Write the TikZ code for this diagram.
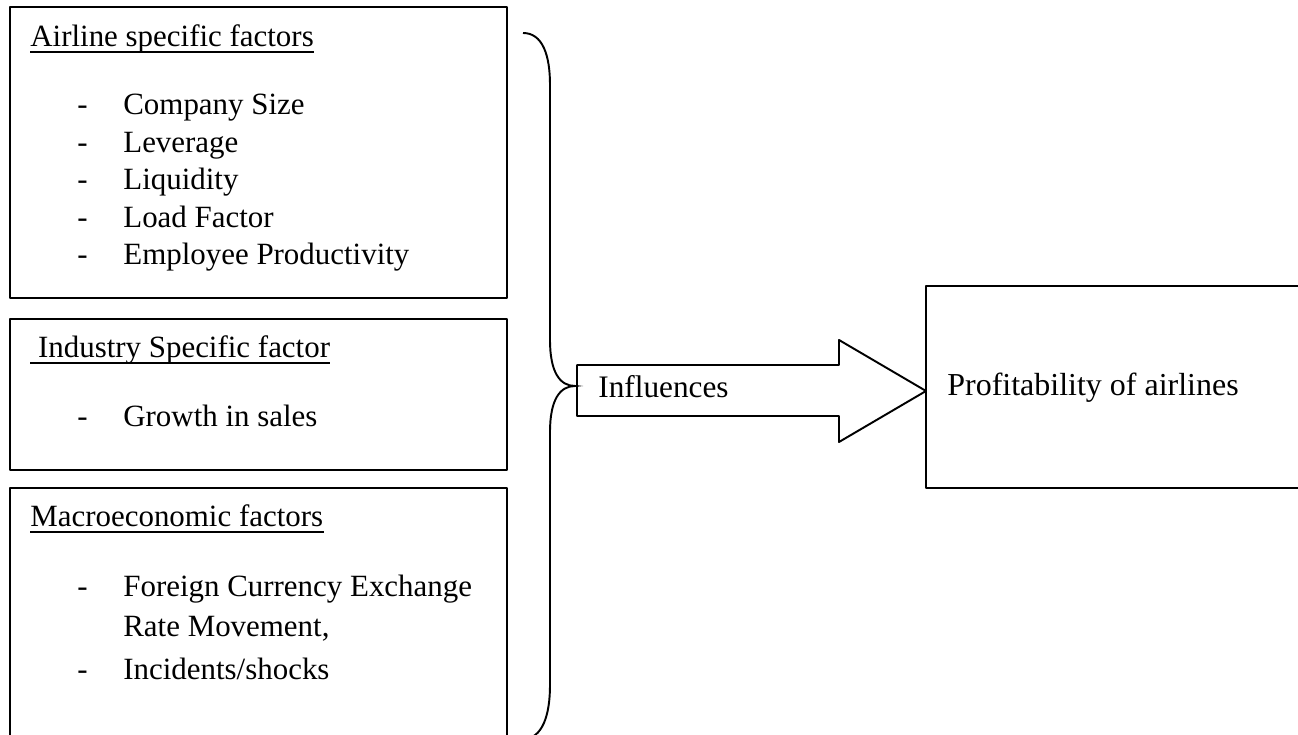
\documentclass[tikz,border=0pt]{standalone}
\usepackage{fontspec}
\setmainfont{Liberation Serif}
\usepackage{tkz-euclide}
\definecolor{LineClr}{rgb}{0,0,0}

\tikzset{
  txt/.style={anchor=base west,inner sep=0pt,font=\fontsize{17.6}{21}\selectfont},
  uline/.style={line width=.7pt,color=LineClr}
}

\begin{document}
\begin{tikzpicture}
\useasboundingbox (0,0) rectangle (25.96,14.7);
\clip (0,0) rectangle (25.96,14.7);
\tkzSetUpLine[line width=1.1pt,color=LineClr]

% factor boxes
\tkzDefPoints{0.2/14.56/A1,10.14/14.56/A2,10.14/8.74/A3,0.2/8.74/A4}
\tkzDefPoints{0.2/8.32/I1,10.14/8.32/I2,10.14/5.30/I3,0.2/5.30/I4}
\tkzDefPoints{0.2/4.94/M1,10.14/4.94/M2,10.14/-0.5/M3,0.2/-0.5/M4}
% result box
\tkzDefPoints{18.52/8.98/P1,26.5/8.98/P2,26.5/4.94/P3,18.52/4.94/P4}
% arrow
\tkzDefPoints{11.54/7.40/R1,16.78/7.40/R2,16.78/7.90/R3,18.52/6.88/R4,16.78/5.86/R5,16.78/6.38/R6,11.54/6.38/R7}
% brace
\tkzDefPoints{10.46/14.04/B1,11.0/13.0/B2,11.0/7.9/B3,11.5/6.98/B4,11.0/6.06/B5,11.0/1.0/B6,10.46/-0.08/B7}

\tkzDrawPolygon(A1,A2,A3,A4)
\tkzDrawPolygon(I1,I2,I3,I4)
\tkzDrawPolygon(M1,M2,M3,M4)
\tkzDrawPolygon(P1,P2,P3,P4)
\tkzDrawPolygon(R1,R2,R3,R4,R5,R6,R7)

\draw[line width=1.1pt,color=LineClr] (B1) .. controls (10.85,14.04) and (11.0,13.6) .. (B2) -- (B3)
  .. controls (11.0,7.25) and (11.2,6.98) .. (B4)
  .. controls (11.2,6.98) and (11.0,6.71) .. (B5) -- (B6)
  .. controls (11.0,0.4) and (10.85,-0.08) .. (B7);

% airline specific
\node[txt] (airT) at (0.6,13.76) {Airline specific factors};
\draw[uline] ([yshift=-0.1cm]airT.base west) -- ([yshift=-0.1cm]airT.base east);
\node[txt] (d1) at (1.54,12.40) {-};
\node[txt] (a1) at (2.46,12.40) {Company Size};
\node[txt] (d2) at (1.54,11.64) {-};
\node[txt] (a2) at (2.46,11.64) {Leverage};
\node[txt] (d3) at (1.54,10.90) {-};
\node[txt] (a3) at (2.46,10.90) {Liquidity};
\node[txt] (d4) at (1.54,10.14) {-};
\node[txt] (a4) at (2.46,10.14) {Load Factor};
\node[txt] (d5) at (1.54,9.40) {-};
\node[txt] (a5) at (2.46,9.40) {Employee Productivity};

% industry specific
\node[txt] (indT) at (0.6,7.54) {\ Industry Specific factor};
\draw[uline] ([yshift=-0.1cm]indT.base west) -- ([yshift=-0.1cm]indT.base east);
\node[txt] (d6) at (1.54,6.16) {-};
\node[txt] (i1) at (2.46,6.16) {Growth in sales};

% macroeconomic
\node[txt] (macT) at (0.6,4.16) {Macroeconomic factors};
\draw[uline] ([yshift=-0.1cm]macT.base west) -- ([yshift=-0.1cm]macT.base east);
\node[txt] (d7) at (1.54,2.76) {-};
\node[txt] (m1) at (2.46,2.76) {Foreign Currency Exchange};
\node[txt] (m2) at (2.46,1.96) {Rate Movement,};
\node[txt] (d8) at (1.54,1.10) {-};
\node[txt] (m3) at (2.46,1.10) {Incidents/shocks};

\node[txt,font=\fontsize{17.8}{21}\selectfont] (infl) at (11.96,6.74) {Influences};
\node[txt,font=\fontsize{18.2}{21}\selectfont] (prof) at (18.94,6.78) {Profitability of airlines};

\end{tikzpicture}
\end{document}
